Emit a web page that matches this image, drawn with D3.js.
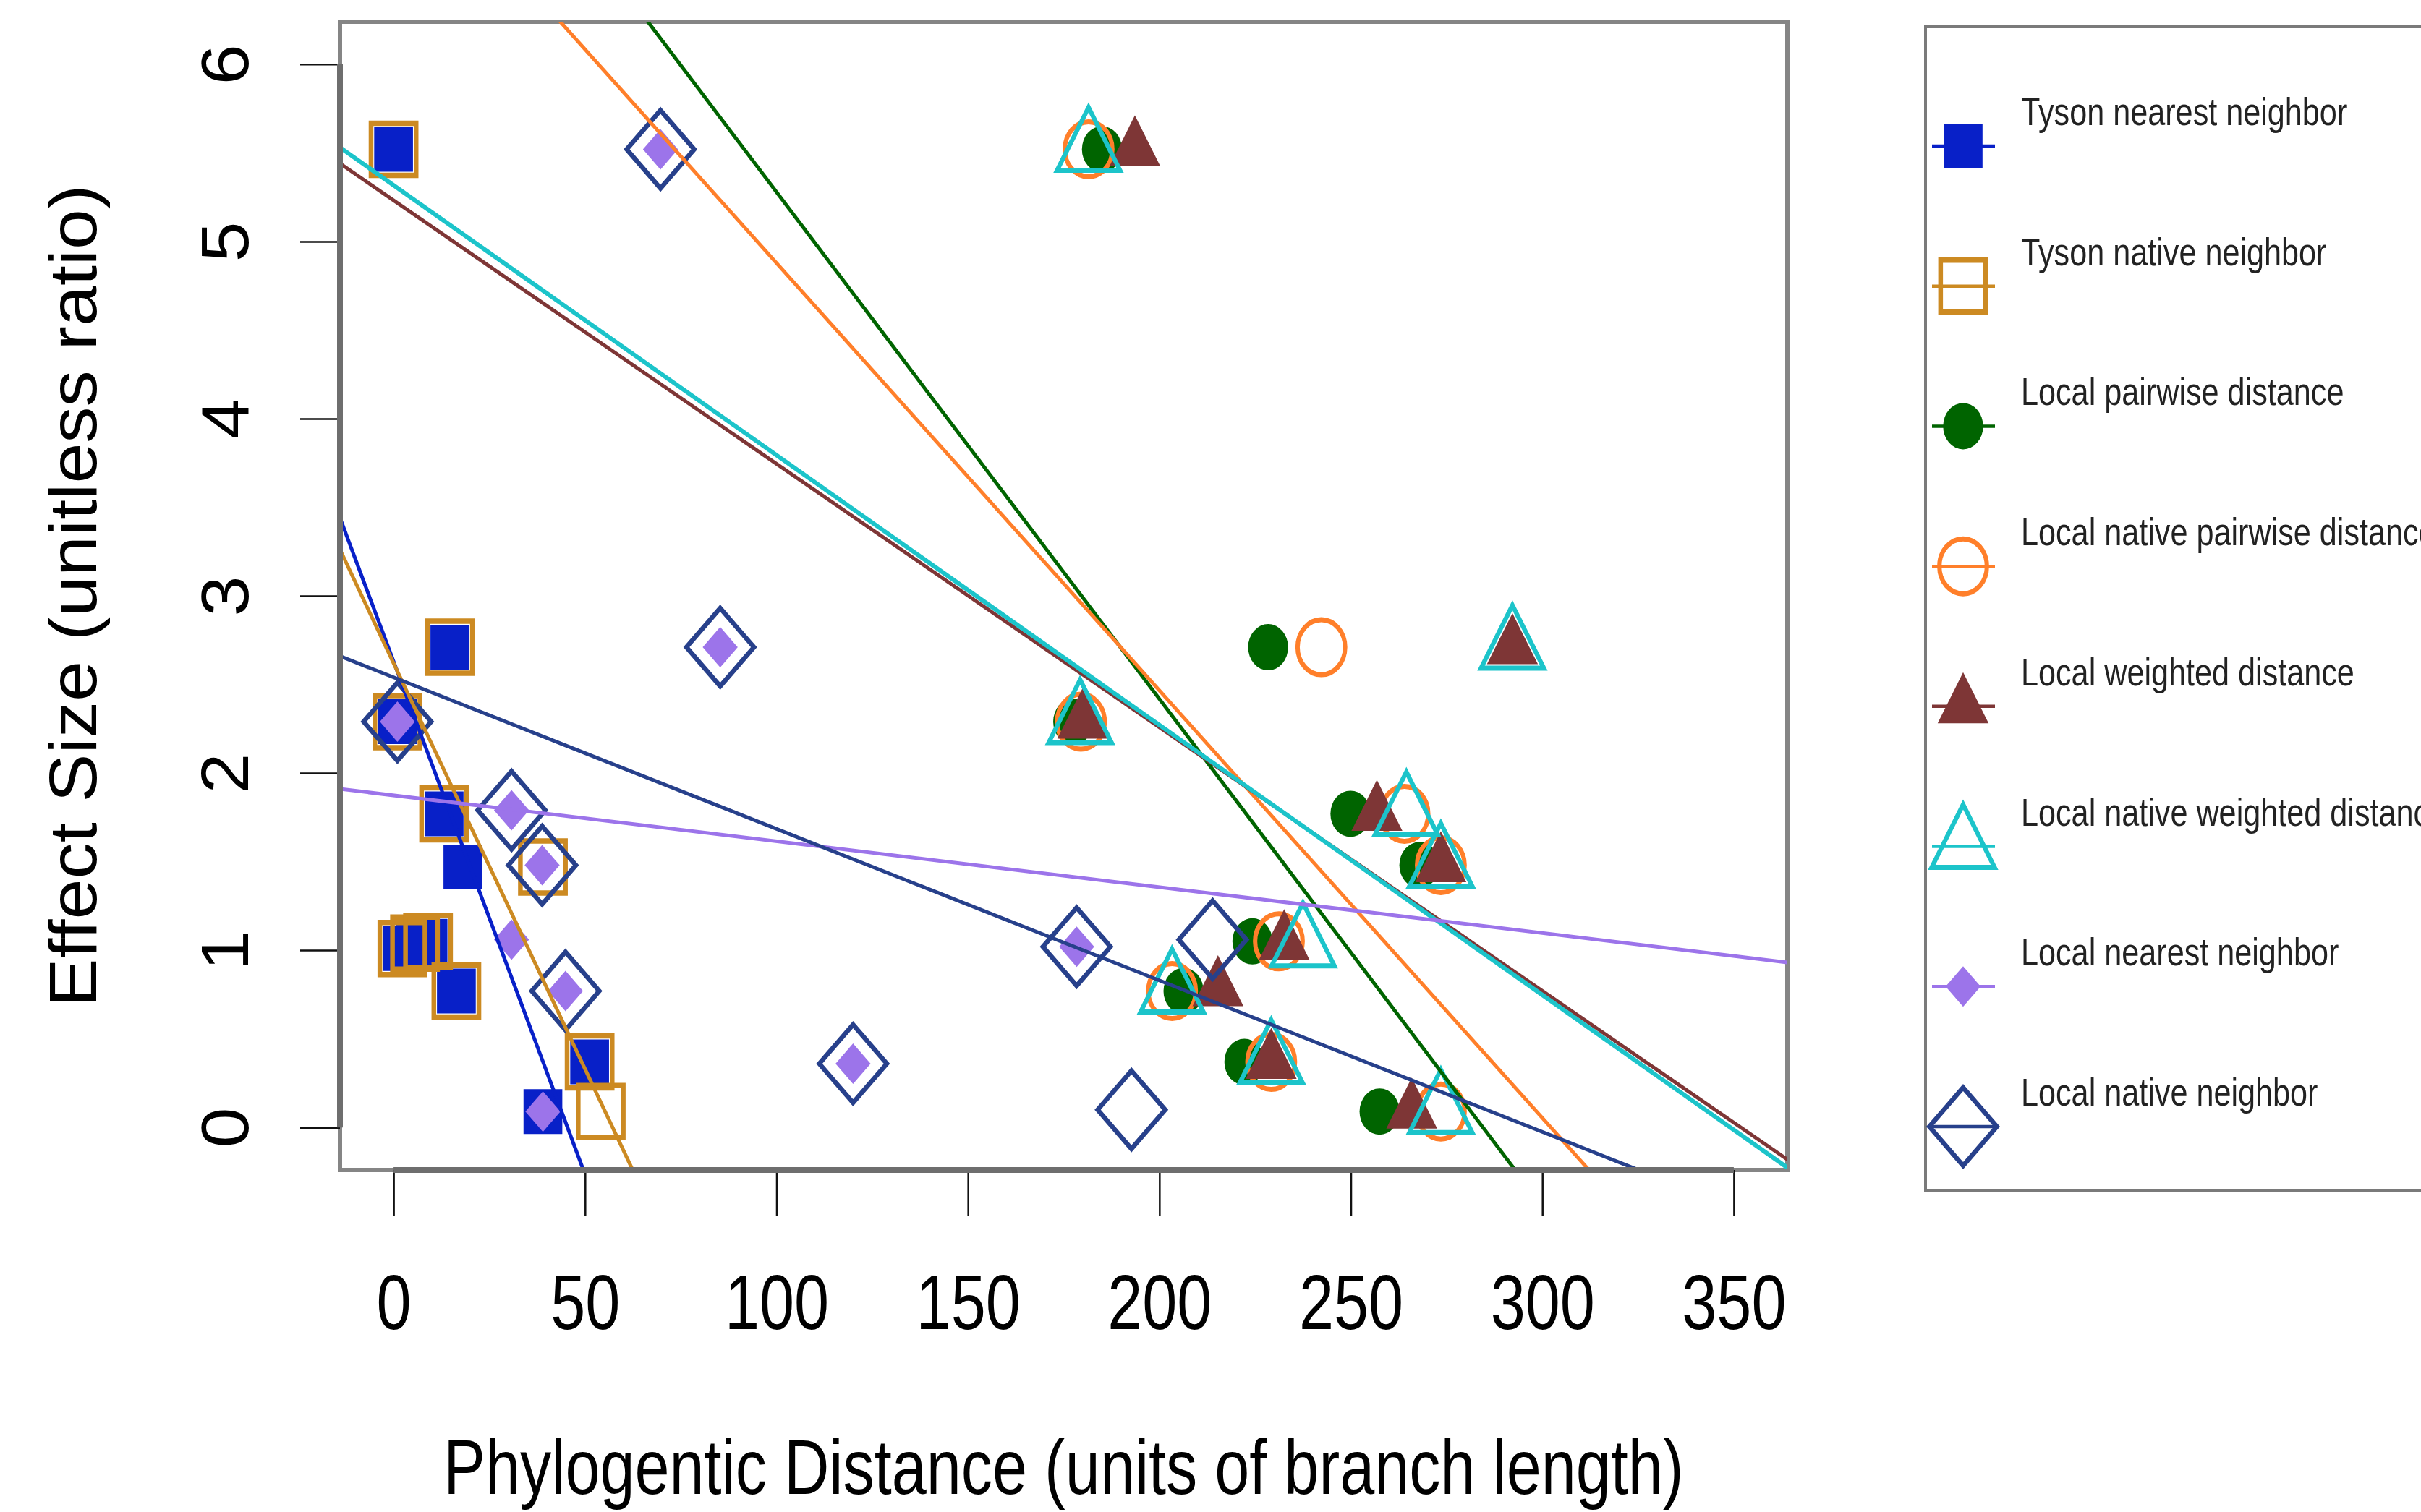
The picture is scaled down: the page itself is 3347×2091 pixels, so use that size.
<!DOCTYPE html>
<html>
<head>
<meta charset="utf-8">
<script src="https://cdn.jsdelivr.net/npm/d3@7"></script>
<style>
  body { margin: 0; background: #fff; }
  svg { display: block; }
  text { font-family: "Liberation Sans", Arial, Helvetica, sans-serif; }
</style>
</head>
<body>
<svg id="chart"></svg>
<script>
// ---- data ----
const seriesNames = [
  'Tyson nearest neighbor',
  'Tyson native neighbor',
  'Local pairwise distance',
  'Local native pairwise distance',
  'Local weighted distance',
  'Local native weighted distance',
  'Local nearest neighbor',
  'Local native neighbor'
];
const seriesColors = ['#0820c8', '#cc8a22', '#006400', '#ff7f2a', '#7e3636', '#1cc4ca', '#9c74ea', '#27408b'];
const seriesShapes = ['sqFill', 'sqOpen', 'circFill', 'circOpen', 'triFill', 'triOpen', 'diaFill', 'diaOpen'];

const tysonNearestX = [0, 14.7, 1, 13.2, 18.1, 2.3, 5.6, 9, 16.4, 51.2, 39];
const tysonNearestY = [5.52, 2.71, 2.29, 1.77, 1.47, 1.01, 1.04, 1.05, 0.77, 0.37, 0.09];
const tysonNativeX = [0, 14.7, 1, 13.2, 39, 2.3, 5.6, 9, 16.4, 51.2, 54.1];
const tysonNativeY = [5.52, 2.71, 2.29, 1.77, 1.47, 1.01, 1.04, 1.05, 0.77, 0.37, 0.09];
const pairwiseX = [185, 177.5, 228.4, 249.9, 267.9, 224.3, 206.3, 222.2, 257.5];
const pairwiseY = [5.52, 2.29, 2.71, 1.77, 1.48, 1.05, 0.77, 0.37, 0.09];
const nativePairwiseX = [181.5, 179.5, 242.3, 264, 273.5, 231.2, 203.3, 229.2, 273.5];
const nativePairwiseY = [5.52, 2.29, 2.71, 1.77, 1.48, 1.05, 0.77, 0.37, 0.09];
const weightedX = [193.6, 180, 292.2, 256.8, 273.5, 232.6, 215.3, 229.2, 265.9];
const weightedY = [5.52, 2.29, 2.71, 1.77, 1.48, 1.04, 0.78, 0.37, 0.09];
const nativeWeightedX = [181.5, 179.3, 292.2, 264.5, 273.5, 237.5, 203.3, 229.2, 273.5];
const nativeWeightedY = [5.52, 2.29, 2.71, 1.77, 1.48, 1.03, 0.77, 0.37, 0.09];
const localNearestX = [69.7, 85.3, 1, 30.8, 38.8, 30.8, 178.4, 44.9, 120, 39];
const localNearestY = [5.52, 2.71, 2.29, 1.79, 1.48, 1.06, 1.02, 0.77, 0.36, 0.09];
const localNativeX = [69.7, 85.3, 1, 30.8, 38.8, 178.4, 213.9, 44.9, 120, 192.7];
const localNativeY = [5.52, 2.71, 2.29, 1.79, 1.48, 1.02, 1.06, 0.77, 0.36, 0.10];

// fitted lines (intercept, slope) per series, same order as names
const lineIntercepts = [2.63, 2.62, 8.14, 7.29, 5.232, 5.317, 1.874, 2.54];
const lineSlopes = [-0.0579, -0.0458, -0.02861, -0.02412, -0.01487, -0.01523, -0.00259, -0.00855];

const xTicks = [0, 50, 100, 150, 200, 250, 300, 350];
const yTicks = [0, 1, 2, 3, 4, 5, 6];

const seriesX = [tysonNearestX, tysonNativeX, pairwiseX, nativePairwiseX, weightedX, nativeWeightedX, localNearestX, localNativeX];
const seriesY = [tysonNearestY, tysonNativeY, pairwiseY, nativePairwiseY, weightedY, nativeWeightedY, localNearestY, localNativeY];

// ---- layout ----
const W = 3347, H = 2091;
const plotL = 470, plotR = 2471, plotT = 30, plotB = 1618;
const MK = 0.865;   // horizontal squeeze of the original picture
const TK = 0.80;    // squeeze for horizontal text
const axisFont = 108;

const svg = d3.select('#chart').attr('width', W).attr('height', H);

const x = d3.scaleLinear().domain([-14, 364]).range([plotL, plotR]);
const y = d3.scaleLinear().domain([-0.24, 6.24]).range([plotB, plotT]);

svg.append('defs').append('clipPath').attr('id', 'plotclip')
  .append('rect').attr('x', plotL).attr('y', plotT).attr('width', plotR - plotL).attr('height', plotB - plotT);

function shapePath(kind) {
  const tri = r => `M0,${-r}L${r * 0.866},${r / 2}L${-r * 0.866},${r / 2}Z`;
  const dia = h => `M0,${-h}L${h},0L0,${h}L${-h},0Z`;
  const sq = h => `M${-h},${-h}H${h}V${h}H${-h}Z`;
  const circ = r => `M${r},0A${r},${r} 0 1,1 ${-r},0A${r},${r} 0 1,1 ${r},0Z`;
  switch (kind) {
    case 'sqFill': return sq(31);
    case 'sqOpen': return sq(36);
    case 'circFill': return circ(32);
    case 'circOpen': return circ(38);
    case 'triFill': return tri(47);
    case 'triOpen': return tri(58);
    case 'diaFill': return dia(28);
    case 'diaOpen': return dia(54);
  }
}
const isFilled = kind => kind.endsWith('Fill');

function styleMarker(sel, i) {
  const kind = seriesShapes[i];
  sel.attr('d', shapePath(kind))
    .attr('fill', isFilled(kind) ? seriesColors[i] : 'none')
    .attr('stroke', isFilled(kind) ? 'none' : seriesColors[i])
    .attr('stroke-width', kind === 'sqOpen' ? 7.5 : 7);
}

// box
svg.append('rect')
  .attr('x', plotL).attr('y', plotT).attr('width', plotR - plotL).attr('height', plotB - plotT)
  .attr('fill', 'none').attr('stroke', '#858585').attr('stroke-width', 6);

// points
const pts = svg.append('g').attr('clip-path', 'url(#plotclip)');
seriesNames.forEach((name, i) => {
  const data = seriesX[i].map((v, j) => ({x: v, y: seriesY[i][j]}));
  pts.append('g').selectAll('path')
    .data(data)
    .enter()
    .append('path')
    .attr('transform', d => `translate(${x(d.x)},${y(d.y)}) scale(${MK},1)`)
    .call(styleMarker, i);
});

// regression lines
const lines = svg.append('g').attr('clip-path', 'url(#plotclip)');
const line = d3.line().x(d => x(d[0])).y(d => y(d[1]));
seriesNames.forEach((name, i) => {
  const ends = x.domain().map(v => [v, lineIntercepts[i] + lineSlopes[i] * v]);
  lines.append('path')
    .attr('d', line(ends))
    .attr('fill', 'none')
    .attr('stroke', seriesColors[i])
    .attr('stroke-width', i === 5 ? 6 : 5);
});

// axes
const xAxis = d3.axisBottom(x).tickValues(xTicks).tickSize(63).tickSizeOuter(0).tickFormat(d3.format('d'));
const gx = svg.append('g').attr('transform', `translate(0,${plotB})`).call(xAxis);
gx.select('.domain').remove();
gx.selectAll('.tick line').attr('stroke', '#111').attr('stroke-width', 2.5);
gx.selectAll('.tick text')
  .attr('y', null).attr('dy', null)
  .attr('transform', `translate(0,220) scale(${TK},1)`)
  .attr('fill', '#000')
  .style('font-size', axisFont + 'px');
gx.append('line')
  .attr('x1', x(xTicks[0])).attr('x2', x(xTicks[xTicks.length - 1]))
  .attr('stroke', '#6e6e6e').attr('stroke-width', 8);

const yAxis = d3.axisLeft(y).tickValues(yTicks).tickSize(55).tickSizeOuter(0).tickFormat(d3.format('d'));
const gy = svg.append('g').attr('transform', `translate(${plotL},0)`).call(yAxis);
gy.select('.domain').remove();
gy.selectAll('.tick line').attr('stroke', '#111').attr('stroke-width', 2.5);
gy.selectAll('.tick text')
  .attr('x', null).attr('dy', null)
  .attr('text-anchor', 'middle')
  .attr('transform', `translate(-127,0) rotate(-90) scale(0.93,${MK})`)
  .attr('fill', '#000')
  .style('font-size', axisFont + 'px');
gy.append('line')
  .attr('y1', y(yTicks[0])).attr('y2', y(yTicks[yTicks.length - 1]))
  .attr('stroke', '#6e6e6e').attr('stroke-width', 8);

// axis titles
svg.append('text')
  .attr('transform', `translate(${(plotL + plotR) / 2},2066) scale(${TK},1)`)
  .attr('text-anchor', 'middle')
  .style('font-size', axisFont + 'px')
  .text('Phylogentic Distance (units of branch length)');

svg.append('text')
  .attr('transform', `translate(133,${(plotT + plotB) / 2}) rotate(-90) scale(0.93,${MK})`)
  .attr('text-anchor', 'middle')
  .style('font-size', axisFont + 'px')
  .text('Effect Size (unitless ratio)');

// legend
const legend = svg.append('g');
legend.append('rect')
  .attr('x', 2662).attr('y', 37).attr('width', 900).attr('height', 1610)
  .attr('fill', '#fff').attr('stroke', '#7a7a7a').attr('stroke-width', 4);

const legendY = d3.scalePoint().domain(seriesNames).range([202, 1558]);
seriesNames.forEach((name, i) => {
  const ly = legendY(name);
  legend.append('line')
    .attr('x1', 2671).attr('x2', 2758).attr('y1', ly).attr('y2', ly)
    .attr('stroke', seriesColors[i]).attr('stroke-width', 4.5);
  legend.append('path')
    .attr('transform', `translate(2714,${ly}) scale(${MK},1)`)
    .call(styleMarker, i);
  legend.append('text')
    .attr('transform', `translate(2794,${ly - 29}) scale(${TK},1)`)
    .attr('fill', '#222')
    .style('font-size', '54px')
    .text(name);
});
</script>
</body>
</html>
